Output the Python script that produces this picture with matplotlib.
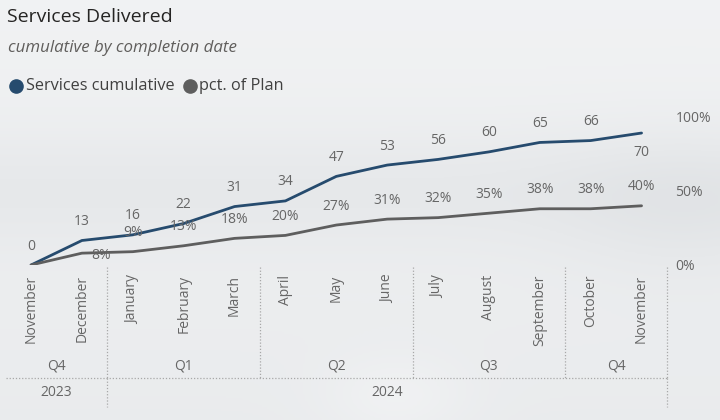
import matplotlib
matplotlib.use('Agg')
import matplotlib.pyplot as plt
import matplotlib.transforms as mtransforms
from matplotlib.colors import LinearSegmentedColormap
import numpy as np

# Datos
months = ['November', 'December', 'January', 'February', 'March', 'April', 'May',
          'June', 'July', 'August', 'September', 'October', 'November']
services = [0, 13, 16, 22, 31, 34, 47, 53, 56, 60, 65, 66, 70]
pct_plan = [0, 8, 9, 13, 18, 20, 27, 31, 32, 35, 38, 38, 40]
quarters = ['Q4', 'Q1', 'Q2', 'Q3', 'Q4']
quarter_spans = [(0, 1), (2, 4), (5, 7), (8, 10), (11, 12)]
years = ['2023', '2024']
year_spans = [(0, 1), (2, 12)]

BLUE = '#264B6E'
GRAY = '#5E5E5E'
LABEL = '#666666'
FONT = 'Open Sans'

W, H = 720, 420
fig = plt.figure(figsize=(W / 100, H / 100), dpi=100)
fig.patch.set_facecolor('#E9EBED')

# fondo con degradado suave (tipo foto nublada)
bg = fig.add_axes([0, 0, 1, 1], zorder=-10)
yy, xx = np.mgrid[0:1:200j, 0:1:300j]
shade = (0.6 + 0.25 * (1 - yy)
         - 0.25 * np.exp(-((yy - 0.45) ** 2) / 0.02)
         + 0.2 * np.exp(-((xx - 0.55) ** 2 + (yy - 0.95) ** 2) / 0.01)
         - 0.2 * np.exp(-((xx - 0.95) ** 2 + (yy - 0.5) ** 2) / 0.03))
cmap_bg = LinearSegmentedColormap.from_list('bg', ['#D9DCDF', '#F5F6F7'])
bg.imshow(shade, cmap=cmap_bg, vmin=0, vmax=1, aspect='auto', extent=[0, 1, 0, 1])
bg.axis('off')

# capa en pixeles para textos y separadores
ov = fig.add_axes([0, 0, 1, 1], zorder=5)
ov.set_xlim(0, W)
ov.set_ylim(H, 0)
ov.axis('off')
ov.patch.set_alpha(0)


def px_box(left, top, right, bottom):
    return [left / W, 1 - bottom / H, (right - left) / W, (bottom - top) / H]


ax = fig.add_axes(px_box(5.6, 117, 667, 265), zorder=2)
ax2 = ax.twinx()
ax.patch.set_alpha(0)
ax2.patch.set_alpha(0)

x = np.arange(len(months))
ax.plot(x, services, color=BLUE, lw=2.0, solid_capstyle='round', zorder=3)
ax2.plot(x, pct_plan, color=GRAY, lw=2.0, solid_capstyle='round', zorder=2)
ax.set_xlim(-0.5, 12.5)
ax.set_ylim(0, 78.5)
ax2.set_ylim(0, 100)

for a in (ax, ax2):
    for s in a.spines.values():
        s.set_visible(False)

ax.set_yticks([])
ax2.set_yticks([0, 50, 100])
ax2.set_yticklabels(['0%', '50%', '100%'])
ax2.tick_params(axis='y', length=0, pad=6, labelcolor=LABEL, labelsize=10)
for t in ax2.get_yticklabels():
    t.set_fontfamily(FONT)

ax.set_xticks(x)
ax.set_xticklabels(months, rotation=90, va='top', ha='center',
                   fontsize=10, color=LABEL, fontfamily=FONT)
ax.tick_params(axis='x', length=0, pad=7)

# etiquetas de datos
for i, v in enumerate(services):
    dy = -19 if i == len(services) - 1 else 19
    ax.annotate(str(v), (i, v), xytext=(0, dy), textcoords='offset pixels',
                ha='center', va='center', fontsize=10, color=LABEL,
                fontfamily=FONT, zorder=6)
for i, v in enumerate(pct_plan):
    if i == 0:
        continue
    off = (19, -2) if i == 1 else (0, 19)
    ax2.annotate(f'{v}%', (i, v), xytext=off, textcoords='offset pixels',
                 ha='center', va='center', fontsize=10, color=LABEL,
                 fontfamily=FONT, zorder=6)

# jerarquia del eje x
tr = mtransforms.blended_transform_factory(ax.transData, ov.transData)
sep = dict(color='#A8A8A8', lw=0.9, ls=(0, (1, 1.5)))
ov.plot([-0.5, 12.5], [378, 378], transform=tr, **sep)
for a, b in quarter_spans:
    ov.plot([b + 0.5, b + 0.5], [267, 378], transform=tr, **sep)
for a, b in year_spans:
    ov.plot([b + 0.5, b + 0.5], [378, 407], transform=tr, **sep)
for q, (a, b) in zip(quarters, quarter_spans):
    ov.text((a + b) / 2, 366, q, transform=tr, ha='center', va='center',
            fontsize=10, color=LABEL, fontfamily=FONT)
for yl, (a, b) in zip(years, year_spans):
    ov.text((a + b) / 2, 393, yl, transform=tr, ha='center', va='center',
            fontsize=10, color=LABEL, fontfamily=FONT)

# titulo, subtitulo y leyenda
ov.text(7, 17, 'Services Delivered', ha='left', va='center',
        fontsize=14, color='#252423', fontfamily=FONT)
ov.text(8, 48, 'cumulative by completion date', ha='left', va='center',
        fontsize=12.2, color='#605E5C', fontfamily=FONT, style='italic')
ov.plot([16], [86], 'o', ms=9.5, color=BLUE)
ov.text(26, 86, 'Services cumulative', ha='left', va='center',
        fontsize=11.7, color='#404040', fontfamily=FONT)
ov.plot([190], [86], 'o', ms=9.5, color=GRAY)
ov.text(199, 86, 'pct. of Plan', ha='left', va='center',
        fontsize=11.7, color='#404040', fontfamily=FONT)

fig.savefig('out.png', dpi=100, facecolor=fig.get_facecolor())
